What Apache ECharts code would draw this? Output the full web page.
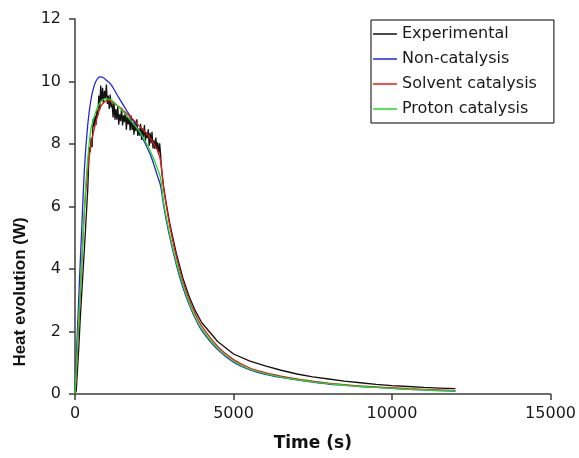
<!DOCTYPE html>
<html>
<head>
<meta charset="utf-8">
<script src="https://cdn.jsdelivr.net/npm/echarts@6/dist/echarts.min.js"></script>
<style>
html,body{margin:0;padding:0;background:#fff;}
#chart{width:579px;height:458px;}
</style>
</head>
<body>
<div id="chart"></div>
<script>
// ---- Data ----
const seriesNames = ['Experimental', 'Non-catalysis', 'Solvent catalysis', 'Proton catalysis'];
const xTicks = [0, 5000, 10000, 15000];
const yTicks = [0, 2, 4, 6, 8, 10, 12];

const timeModel = [0, 50, 100, 150, 200, 300, 400, 500, 600, 700, 800, 900, 1000, 1100, 1200, 1400, 1600, 1800, 2000, 2200, 2400, 2600, 2700, 2800, 2900, 3000, 3200, 3400, 3600, 3800, 4000, 4500, 5000, 5500, 6000, 6500, 7000, 7500, 8000, 8500, 9000, 9500, 10000, 10500, 11000, 11500, 12000];

const nonCatalysis = [0, 1.4, 2.6, 3.85, 5.0, 7.25, 8.6, 9.4, 9.85, 10.08, 10.15, 10.12, 10.03, 9.95, 9.8, 9.45, 9.12, 8.8, 8.45, 8.05, 7.6, 6.98, 6.66, 6.0, 5.45, 4.97, 4.12, 3.42, 2.86, 2.4, 2.03, 1.42, 1.02, 0.78, 0.63, 0.53, 0.45, 0.38, 0.32, 0.28, 0.24, 0.21, 0.18, 0.15, 0.13, 0.11, 0.09];

const solventCatalysis = [0, 0.8, 1.8, 2.9, 3.9, 5.9, 7.15, 7.95, 8.45, 8.85, 9.18, 9.32, 9.38, 9.38, 9.33, 9.18, 9.0, 8.82, 8.6, 8.4, 8.15, 7.8, 7.45, 6.55, 5.9, 5.32, 4.38, 3.62, 3.02, 2.55, 2.17, 1.52, 1.1, 0.84, 0.68, 0.57, 0.48, 0.41, 0.35, 0.3, 0.26, 0.23, 0.2, 0.17, 0.15, 0.13, 0.11];

const protonCatalysis = [0, 1.0, 2.0, 3.0, 3.9, 6.0, 7.5, 8.45, 8.85, 9.15, 9.33, 9.43, 9.45, 9.42, 9.37, 9.17, 8.95, 8.7, 8.45, 8.12, 7.72, 7.22, 6.9, 6.1, 5.55, 5.05, 4.2, 3.5, 2.92, 2.45, 2.08, 1.46, 1.05, 0.8, 0.65, 0.54, 0.46, 0.39, 0.33, 0.28, 0.24, 0.21, 0.18, 0.15, 0.13, 0.11, 0.1];

const timeExp = [0, 40, 80, 120, 160, 200, 250, 300, 350, 400, 420,
  450, 480, 510, 540, 570, 600, 630, 660, 690, 720,
  750, 780, 810, 840, 870, 900, 930, 960, 990, 1020,
  1050, 1080, 1110, 1140, 1170, 1200, 1230, 1260, 1290, 1320,
  1350, 1380, 1410, 1440, 1470, 1500, 1530, 1560, 1590, 1620,
  1650, 1680, 1710, 1740, 1770, 1800, 1830, 1860, 1890, 1920,
  1950, 1980, 2010, 2040, 2070, 2100, 2130, 2160, 2190, 2220,
  2250, 2280, 2310, 2340, 2370, 2400, 2430, 2460, 2490, 2520,
  2550, 2580, 2610, 2640, 2670, 2700,
  2720, 2750, 2800, 2900, 3000, 3200, 3400, 3600, 3800, 4000, 4500, 5000, 5500, 6000, 6500, 7000, 7500, 8000, 8500, 9000, 9500, 10000, 10500, 11000, 11500, 12000];

const experimental = [0, 0.1, 0.8, 1.5, 2.3, 3.0, 3.85, 4.7, 5.6, 6.5, 7.0,
  7.9, 7.75, 8.2, 7.9, 8.8, 8.55, 8.92, 8.6, 9.07, 8.92,
  9.55, 9.1, 9.87, 9.35, 9.8, 9.3, 9.7, 9.47, 9.9, 9.28,
  9.55, 9.12, 9.58, 9.17, 9.3, 8.85, 9.34, 8.78, 9.12, 8.78,
  9.2, 8.62, 8.95, 8.73, 9.16, 8.59, 8.92, 8.7, 9.03, 8.46,
  8.87, 8.63, 8.85, 8.43, 8.91, 8.45, 8.68, 8.3, 8.73, 8.41,
  8.79, 8.26, 8.49, 8.27, 8.65, 8.13, 8.5, 8.23, 8.61, 8.09,
  8.37, 8.19, 8.47, 7.94, 8.36, 8.02, 8.39, 7.86, 8.12, 7.84,
  8.21, 7.83, 8.05, 7.66, 8.02, 7.68,
  7.3, 7.0, 6.6, 5.97, 5.4, 4.48, 3.72, 3.12, 2.65, 2.28, 1.68, 1.28, 1.06, 0.9, 0.76, 0.64, 0.55, 0.48, 0.41, 0.36, 0.31, 0.27, 0.24, 0.21, 0.19, 0.17];

const colors = ['#111111', '#2323e0', '#e81818', '#20dd20'];

function pairs(xs, ys) { return xs.map((x, i) => [x, ys[i]]); }

const chart = echarts.init(document.getElementById('chart'), null, {renderer: 'canvas'});
const axisColor = '#3c3c3c';
const tickFont = {fontFamily: 'DejaVu Sans', fontSize: 16, color: '#1a1a1a'};

const dataSets = [pairs(timeExp, experimental), pairs(timeModel, nonCatalysis), pairs(timeModel, solventCatalysis), pairs(timeModel, protonCatalysis)];

chart.setOption({
  animation: false,
  backgroundColor: '#ffffff',
  grid: {left: 75, right: 25, top: 19, bottom: 64, containLabel: false},
  legend: {
    orient: 'vertical',
    left: 371, top: 20,
    padding: [6, 17, 6, 2],
    itemGap: 9,
    itemWidth: 24, itemHeight: 1.5,
    icon: 'rect',
    borderColor: '#000', borderWidth: 1,
    textStyle: {fontFamily: 'DejaVu Sans', fontSize: 16, color: '#1a1a1a'},
    data: seriesNames
  },
  xAxis: {
    type: 'value', min: xTicks[0], max: xTicks[xTicks.length - 1], interval: xTicks[1] - xTicks[0],
    name: 'Time (s)', nameLocation: 'middle', nameGap: 41,
    nameTextStyle: {fontFamily: 'DejaVu Sans', fontWeight: 'bold', fontSize: 17, color: '#111'},
    axisLine: {lineStyle: {color: axisColor, width: 1.5}},
    axisTick: {show: true, length: 6, inside: false, lineStyle: {color: axisColor, width: 1.5}},
    axisLabel: Object.assign({margin: 12, formatter: v => String(v)}, tickFont),
    splitLine: {show: false}
  },
  yAxis: {
    type: 'value', min: yTicks[0], max: yTicks[yTicks.length - 1], interval: yTicks[1] - yTicks[0],
    name: 'Heat evolution (W)', nameLocation: 'middle', nameGap: 46,
    nameTextStyle: {fontFamily: 'Liberation Sans', fontWeight: 'bold', fontSize: 17, color: '#111', padding: [0, 171, 0, 0]},
    axisLine: {show: true, lineStyle: {color: axisColor, width: 1.5}},
    axisTick: {show: true, length: 6, inside: false, lineStyle: {color: axisColor, width: 1.5}},
    axisLabel: Object.assign({margin: 14, formatter: v => String(v)}, tickFont),
    splitLine: {show: false}
  },
  series: seriesNames.map((name, i) => ({
    name: name,
    type: 'line',
    data: dataSets[i],
    showSymbol: false,
    symbol: 'none',
    smooth: i === 0 ? false : 0.3,
    lineStyle: {color: colors[i], width: 1.3},
    itemStyle: {color: colors[i]},
    z: 2 + i
  }))
});
</script>
</body>
</html>
